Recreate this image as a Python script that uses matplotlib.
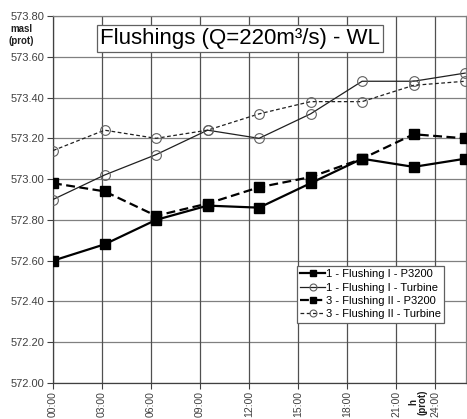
import matplotlib
matplotlib.use("Agg")
import matplotlib.pyplot as plt

plt.rcParams["font.family"] = ["Liberation Sans", "DejaVu Sans"]

hours = [0, 3, 6, 9, 12, 15, 18, 21, 24]
f1_p3200 = [572.60, 572.68, 572.80, 572.87, 572.86, 572.98, 573.10, 573.06, 573.10]
f1_turbine = [572.90, 573.02, 573.12, 573.24, 573.20, 573.32, 573.48, 573.48, 573.52]
f2_p3200 = [572.98, 572.94, 572.82, 572.88, 572.96, 573.01, 573.10, 573.22, 573.20]
f2_turbine = [573.14, 573.24, 573.20, 573.24, 573.32, 573.38, 573.38, 573.46, 573.48]

xtick_labels = ["00:00", "03:00", "06:00", "09:00", "12:00", "15:00", "18:00", "21:00", "24:00"]
xtick_pos = [0, 2.855, 5.71, 8.565, 11.42, 14.275, 17.13, 19.985, 22.25]
yticks = [572.0 + 0.2 * i for i in range(10)]

fig = plt.figure(figsize=(4.67, 4.19), dpi=100)
ax = fig.add_axes([53/467, 36/419, 413/467, 367/419])

grid_c = "#808080"
for y in yticks:
    ax.axhline(y, color=grid_c, lw=0.9, zorder=0)
for x in xtick_pos:
    ax.axvline(x, color="#505050", lw=0.9, zorder=0)

ax.plot(hours, f1_p3200, color="black", lw=1.6, ls="-", marker="s", ms=7,
        mfc="black", mec="black", label="1 - Flushing I - P3200", zorder=3)
ax.plot(hours, f1_turbine, color="#202020", lw=0.9, ls="-", marker="o", ms=7,
        mfc="none", mec="#606060", mew=0.8, label="1 - Flushing I - Turbine", zorder=3)
ax.plot(hours, f2_p3200, color="black", lw=1.6, ls=(0, (4, 2)), marker="s", ms=7,
        mfc="black", mec="black", label="3 - Flushing II - P3200", zorder=3)
ax.plot(hours, f2_turbine, color="#202020", lw=0.9, ls=(0, (3, 2)), marker="o", ms=7,
        mfc="none", mec="#606060", mew=0.8, label="3 - Flushing II - Turbine", zorder=3)

ax.set_xlim(0, 24.05)
ax.set_ylim(572.0, 573.8)
ax.set_yticks(yticks)
ax.set_yticklabels([f"{v:.2f}" for v in yticks], fontsize=8, color="#404040")
ax.set_xticks(xtick_pos)
ax.set_xticklabels(xtick_labels, rotation=90, fontsize=7.5, color="#404040")
ax.tick_params(axis="both", direction="out", length=4, color="#404040", width=0.8, pad=2)

for s in ["top", "right"]:
    ax.spines[s].set_color(grid_c)
    ax.spines[s].set_linewidth(0.9)
for s in ["left", "bottom"]:
    ax.spines[s].set_color("#404040")
    ax.spines[s].set_linewidth(0.9)

ax.text(100/467, 1 - 38.5/419, "Flushings (Q=220m³/s) - WL", transform=fig.transFigure,
        ha="left", va="center", fontsize=16, color="black",
        bbox=dict(boxstyle="square,pad=0.12", fc="white", ec="#606060", lw=0.9))

fig.text(21/467, 1 - 35/419, "masl\n(prot)", ha="center", va="center",
         fontsize=7, fontweight="bold", color="#202020", linespacing=1.15)
fig.text(418/467, 1 - 402/419, "h\n(prot)", ha="center", va="center",
         fontsize=7, fontweight="bold", color="#202020", rotation=90, linespacing=1.0)

leg = ax.legend(loc="upper left", bbox_to_anchor=(297/467, 1 - 266/419),
                bbox_transform=fig.transFigure, fontsize=8,
                frameon=True, fancybox=False, edgecolor="#606060", framealpha=1,
                handlelength=2.2, handletextpad=0.1, borderpad=0.3, labelspacing=0.3,
                borderaxespad=0)
leg.get_frame().set_linewidth(0.9)
for h in leg.legend_handles:
    h.set_markersize(5)

fig.savefig("out.png", dpi=100)
